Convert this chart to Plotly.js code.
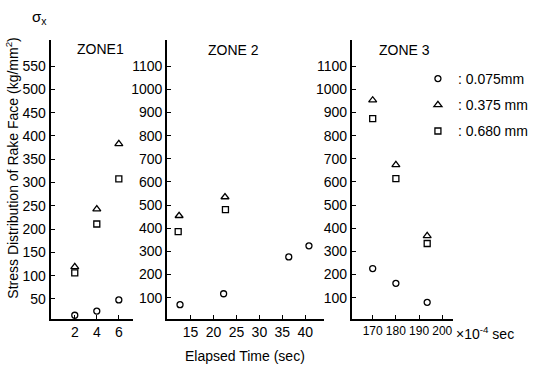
<!DOCTYPE html>
<html>
<head>
<meta charset="utf-8">
<script src="https://cdn.plot.ly/plotly-3.0.1.min.js"></script>
<style>html,body{margin:0;padding:0;background:#fff;}#chart{width:534px;height:365px;}</style>
</head>
<body>
<div id="chart"></div>
<script>
// Zone 1 (time in sec)
const zone1Time = [2, 4, 6];
const zone1D075 = [15, 24, 48];
const zone1D375 = [119, 243, 383];
const zone1D680 = [106, 211, 308];

// Zone 2 (time in sec)
const zone2Time075 = [12.7, 22.2, 36.4, 40.8];
const zone2D075 = [70, 117, 276, 324];
const zone2Time375 = [12.5, 22.5];
const zone2D375 = [454, 535];
const zone2Time680 = [12.3, 22.6];
const zone2D680 = [385, 480];

// Zone 3 (time in x10^-4 sec)
const zone3Time = [170, 180, 193.5];
const zone3D075 = [226, 162, 80];
const zone3D375 = [953, 674, 367];
const zone3D680 = [873, 614, 334];

const legendNames = [': 0.075mm', ': 0.375 mm', ': 0.680 mm'];
const zoneTitles = ['ZONE1', 'ZONE 2', 'ZONE 3'];
const ticks1 = [50,100,150,200,250,300,350,400,450,500,550];
const ticks23 = [100,200,300,400,500,600,700,800,900,1000,1100];

const W = 534, H = 365;
const px = v => v / W;
const py = v => 1 - v / H;
const FONT = 'Liberation Sans, Arial, sans-serif';

const mk = (sym) => ({symbol: sym, size: sym === 'triangle-up-open' ? 7 : 6, color: '#000', line: {width: 1.3, color: '#000'}});

function tr(x, y, sym, ax, name, showleg, group) {
  return {type: 'scatter', mode: 'markers', x: x, y: y, xaxis: ax[0], yaxis: ax[1],
    marker: mk(sym), name: name, showlegend: showleg, legendgroup: group, cliponaxis: false};
}

const data = [
  tr(zone1Time, zone1D075, 'circle-open', ['x','y'], legendNames[0], true, 'a'),
  tr(zone1Time, zone1D375, 'triangle-up-open', ['x','y'], legendNames[1], true, 'b'),
  tr(zone1Time, zone1D680, 'square-open', ['x','y'], legendNames[2], true, 'c'),
  tr(zone2Time075, zone2D075, 'circle-open', ['x2','y2'], legendNames[0], false, 'a'),
  tr(zone2Time375, zone2D375, 'triangle-up-open', ['x2','y2'], legendNames[1], false, 'b'),
  tr(zone2Time680, zone2D680, 'square-open', ['x2','y2'], legendNames[2], false, 'c'),
  tr(zone3Time, zone3D075, 'circle-open', ['x3','y3'], legendNames[0], false, 'a'),
  tr(zone3Time, zone3D375, 'triangle-up-open', ['x3','y3'], legendNames[1], false, 'b'),
  tr(zone3Time, zone3D680, 'square-open', ['x3','y3'], legendNames[2], false, 'c'),
];

const baseX = {showline: true, linecolor: '#000', linewidth: 1.5, showgrid: false, zeroline: false,
  ticks: 'inside', ticklen: 4, tickcolor: '#000', tickangle: 0,
  tickfont: {family: FONT, size: 14, color: '#000'}, mirror: false};
const baseY = Object.assign({}, baseX, {linewidth: 2});

const ann = (text, x, y, extra) => Object.assign({text: text, x: px(x), y: py(y), xref: 'paper', yref: 'paper',
  xanchor: 'center', yanchor: 'middle', showarrow: false, font: {size: 14}}, extra || {});

const layout = {
  width: W, height: H,
  margin: {l: 0, r: 0, t: 0, b: 0},
  paper_bgcolor: '#fff', plot_bgcolor: '#fff',
  font: {family: FONT, size: 14, color: '#000'},
  showlegend: true,
  legend: {x: px(430), y: py(63), xanchor: 'left', yanchor: 'top', bgcolor: 'rgba(0,0,0,0)',
    font: {family: FONT, size: 14, color: '#000'}, tracegroupgap: 5, traceorder: 'grouped', itemwidth: 30},
  xaxis: Object.assign({}, baseX, {domain: [px(52), px(137)], range: [-0.2, 7.3], tickvals: zone1Time, anchor: 'y'}),
  yaxis: Object.assign({}, baseY, {domain: [py(319), py(40)], range: [7, 606], tickvals: ticks1, anchor: 'x'}),
  xaxis2: Object.assign({}, baseX, {domain: [px(172), px(333)], range: [9.9, 44], tickvals: [15,20,25,30,35,40], anchor: 'y2'}),
  yaxis2: Object.assign({}, baseY, {domain: [py(319), py(40)], range: [8, 1213], tickvals: ticks23, anchor: 'x2'}),
  xaxis3: Object.assign({}, baseX, {domain: [px(362), px(466)], range: [161, 204.6], tickvals: [170,180,190,200], anchor: 'y3',
    tickfont: {family: FONT, size: 12, color: '#000'}}),
  yaxis3: Object.assign({}, baseY, {domain: [py(319), py(40)], range: [8, 1213], tickvals: ticks23, anchor: 'x3'}),
  annotations: [
    ann(zoneTitles[0], 103, 49),
    ann(zoneTitles[1], 240, 50),
    ann(zoneTitles[2], 416, 50),
    ann('σ<sub>x</sub>', 41, 17, {font: {size: 15}}),
    ann('Stress Distribution of Rake Face (kg/mm<sup>2</sup>)', 12, 168, {textangle: -90}),
    ann('Elapsed Time (sec)', 252, 356),
    ann('×10<sup>-4</sup> sec', 467, 333, {xanchor: 'left'}),
  ]
};

Plotly.newPlot('chart', data, layout, {displayModeBar: false, staticPlot: true});
</script>
</body>
</html>
